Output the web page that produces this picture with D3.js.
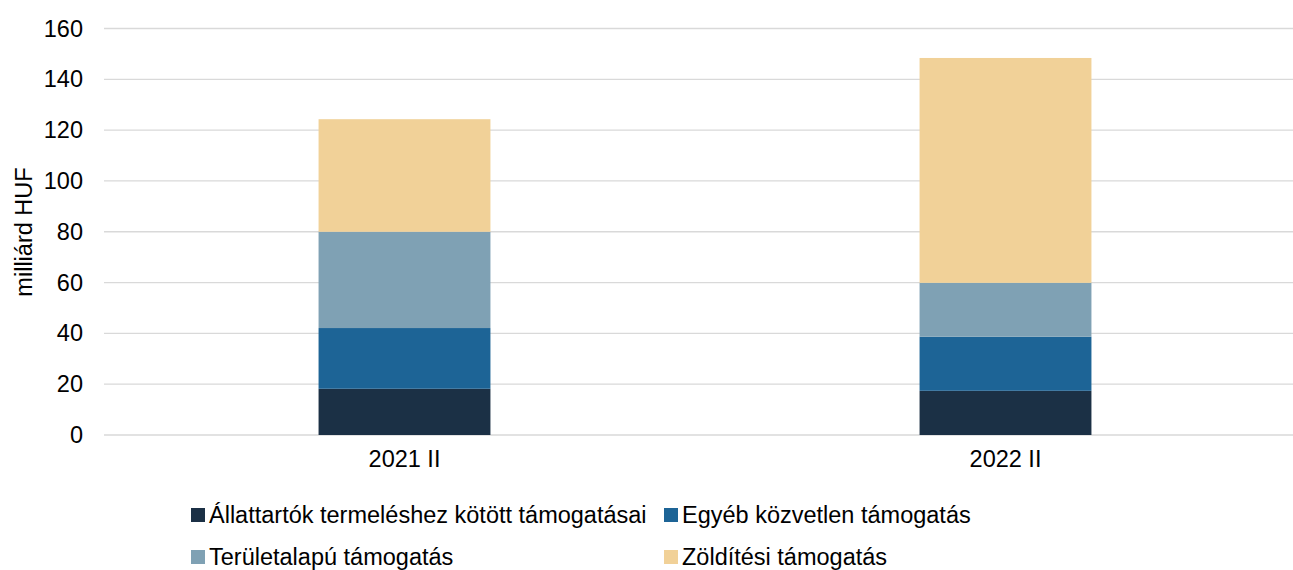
<!DOCTYPE html>
<html>
<head>
<meta charset="utf-8">
<script src="https://cdn.jsdelivr.net/npm/d3@7"></script>
<style>
  body { margin: 0; background: #fff; }
  svg { font-family: "Liberation Sans", Arial, sans-serif; }
</style>
</head>
<body>
<svg id="chart" width="1293" height="570"></svg>
<script>
// categories and series (milliárd HUF)
var categories = ['2021 II', '2022 II'];
var seriesNames = [
  'Állattartók termeléshez kötött támogatásai',
  'Egyéb közvetlen támogatás',
  'Területalapú támogatás',
  'Zöldítési támogatás'
];
var allattartok = [18.2, 17.4];
var egyeb = [23.9, 21.3];
var teruletalapu = [37.9, 21.2];
var zolditesi = [44.3, 88.5];
var yTicks = [0, 20, 40, 60, 80, 100, 120, 140, 160];
var colors = ['#1b3045', '#1d6496', '#7fa1b4', '#f1d198'];

var seriesValues = [allattartok, egyeb, teruletalapu, zolditesi];

// build a table for d3.stack
var table = categories.map(function(c, i) {
  var row = { cat: c };
  seriesNames.forEach(function(s, j) { row[s] = seriesValues[j][i]; });
  return row;
});

var svg = d3.select('#chart');
var fontSize = 23.5;

var x = d3.scaleBand()
  .domain(categories)
  .range([104, 1306])
  .paddingInner(0.714)
  .paddingOuter(0.357);

var y = d3.scaleLinear()
  .domain([0, 160])
  .range([435, 28.5]);

// gridlines
svg.append('g')
  .selectAll('line')
  .data(yTicks)
  .enter()
  .append('line')
  .attr('x1', 104)
  .attr('x2', 1293)
  .attr('y1', function(d) { return y(d); })
  .attr('y2', function(d) { return y(d); })
  .attr('stroke', '#d9d9d9')
  .attr('stroke-width', 1.3);

// y axis labels
var yAxis = d3.axisLeft(y).tickValues(yTicks).tickSize(0).tickPadding(0);
var yg = svg.append('g')
  .attr('transform', 'translate(83,0)')
  .call(yAxis);
yg.select('.domain').remove();
yg.selectAll('text')
  .attr('font-size', fontSize)
  .attr('font-family', '"Liberation Sans", Arial, sans-serif')
  .attr('fill', '#000');

// y axis title
svg.append('text')
  .attr('transform', 'translate(32,232) rotate(-90)')
  .attr('text-anchor', 'middle')
  .attr('font-size', fontSize)
  .text('milliárd HUF');

// stacked bars
var stack = d3.stack().keys(seriesNames);
var layers = stack(table);

svg.append('g')
  .selectAll('g')
  .data(layers)
  .enter()
  .append('g')
  .attr('fill', function(d, i) { return colors[i]; })
  .selectAll('rect')
  .data(function(d) { return d; })
  .enter()
  .append('rect')
  .attr('x', function(d) { return x(d.data.cat); })
  .attr('width', x.bandwidth())
  .attr('y', function(d) { return y(d[1]); })
  .attr('height', function(d) { return y(d[0]) - y(d[1]); });

// x axis labels
var xAxis = d3.axisBottom(x).tickSize(0).tickPadding(0);
var xg = svg.append('g')
  .attr('transform', 'translate(0,450)')
  .call(xAxis);
xg.select('.domain').remove();
xg.selectAll('text')
  .attr('font-size', fontSize)
  .attr('font-family', '"Liberation Sans", Arial, sans-serif')
  .attr('fill', '#000');

// legend, two columns
var legend = svg.append('g')
  .selectAll('g')
  .data(seriesNames)
  .enter()
  .append('g')
  .attr('transform', function(d, i) {
    var lx = (i % 2 === 0) ? 191 : 664;
    var ly = (i < 2) ? 508 : 550;
    return 'translate(' + lx + ',' + ly + ')';
  });

legend.append('rect')
  .attr('width', 14)
  .attr('height', 14)
  .attr('fill', function(d, i) { return colors[i]; });

legend.append('text')
  .attr('x', 18)
  .attr('y', 14.5)
  .attr('font-size', fontSize)
  .text(function(d) { return d; });
</script>
</body>
</html>
